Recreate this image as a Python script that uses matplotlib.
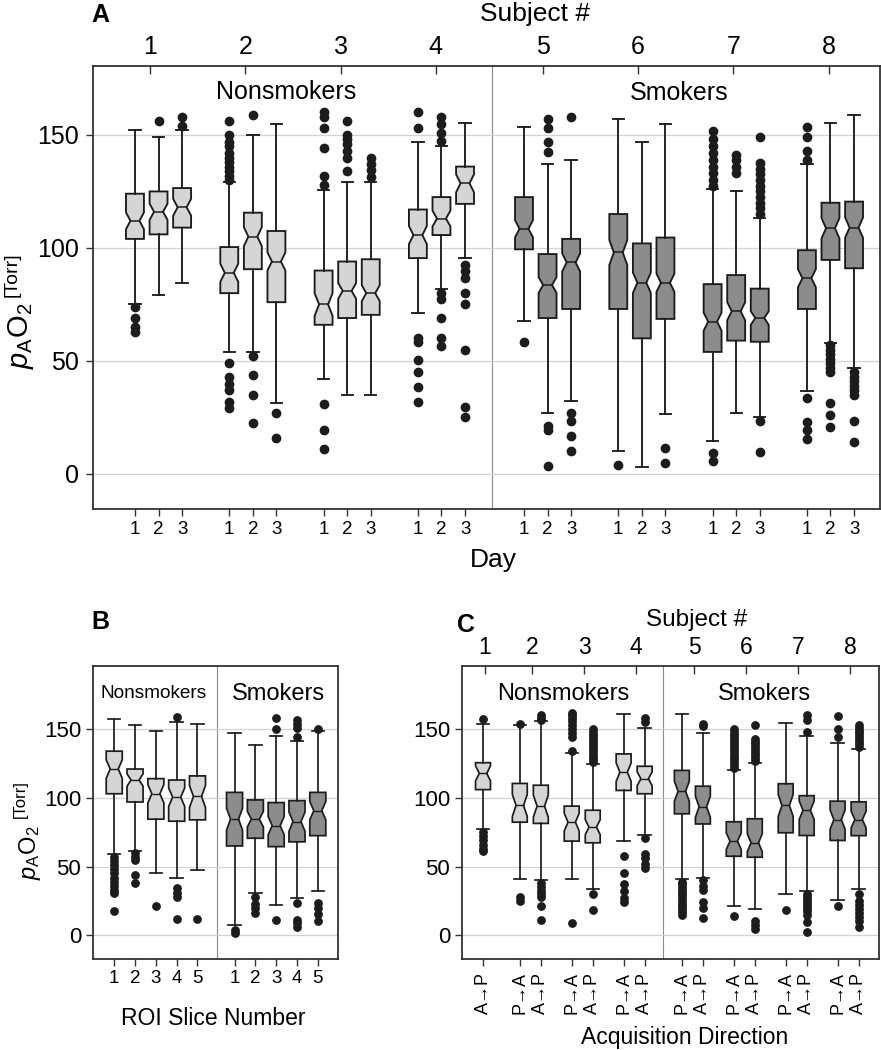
import matplotlib
matplotlib.use('Agg')
import matplotlib.pyplot as plt

plt.rcParams['font.family'] = ['Liberation Sans', 'DejaVu Sans']
plt.rcParams['mathtext.fontset'] = 'custom'
plt.rcParams['mathtext.rm'] = 'Liberation Sans'
plt.rcParams['mathtext.it'] = 'Liberation Sans:italic'

# ---------------- data: panel A (subject x day) ----------------
subjects = ['1', '2', '3', '4', '5', '6', '7', '8']
days = ['1', '2', '3']
A_q1 = [104, 106, 109, 80, 90.6, 76, 66, 69, 70.4, 95.5, 105.7, 119.5,
        99.4, 69, 73, 73, 60, 68.6, 54, 59, 58.5, 73, 94.7, 91]
A_med = [112, 116, 118, 89, 105, 94, 75, 81, 80, 105.7, 113, 128.6,
         108.5, 83.6, 93.6, 98, 84.6, 84.6, 67.4, 72, 69, 86.6, 108.7, 109]
A_q3 = [124, 125, 126.5, 100.4, 115.6, 107.5, 90, 94, 95, 117, 122.5, 136,
        122.5, 97.3, 104, 115, 102, 104.6, 84, 88, 82, 99, 120, 120.5]
A_lo = [75, 79, 84.5, 54, 54, 31.5, 42, 35, 35, 71, 82, 95.5,
        67.7, 27, 32.5, 10, 3.2, 26.5, 14.6, 27, 25.4, 36.7, 58, 47]
A_hi = [152, 149, 152, 129, 150, 155, 125.7, 129, 129, 147, 145, 155.5,
        153.5, 137, 139, 157, 147, 155, 126, 125, 113.4, 137, 155.5, 159]
A_notch = [3.7, 3.6, 3.7, 4, 4.2, 4, 5, 3.5, 3.5, 4, 3.5, 4,
           3.8, 3.5, 4, 5.5, 4.5, 4, 4, 4, 3, 4, 4.5, 4.5]
A_fliers = [
    [74, 69, 65, 63],
    [156],
    [158, 154],
    [156, 150, 147, 145, 142, 140, 138, 136, 134, 132, 130, 49, 43, 40, 37, 32, 29],
    [159, 52, 44, 35, 22.5],
    [27, 16],
    [160, 158, 153, 144, 132, 128, 31, 19.5, 11],
    [156, 150, 148, 146, 143, 140, 134],
    [140, 137, 134.5, 131.5],
    [160, 153, 60, 58.5, 50.6, 45, 38.5, 32],
    [158, 155, 151, 147.5, 80, 77.4, 69, 60, 56.6],
    [92.5, 90, 86.6, 80, 75, 55, 29.6, 25],
    [58.4],
    [157, 153, 147, 142.6, 21.4, 19.5, 3.5],
    [158, 27, 23.5, 17, 10],
    [4],
    [],
    [11.5, 5],
    [151.7, 148, 145, 142, 139, 136, 133, 130, 127.5, 9.4, 5.7],
    [141, 139, 136, 133],
    [149, 137.6, 135, 132.5, 130, 127.5, 125, 122.5, 120, 117.5, 115, 23.5, 9.7],
    [153.5, 149, 143, 139, 33.8, 23, 19.5, 15.5],
    [57, 55, 53, 51, 49, 47, 45, 31.5, 26, 20.8],
    [45, 43, 41, 39, 37, 35, 23.5, 14],
]

# ---------------- data: panel B (ROI slice) ----------------
slices = ['1', '2', '3', '4', '5']
B_q1 = [103, 97, 84.5, 83, 84, 65, 70.6, 64.5, 68, 72.5]
B_med = [121, 113, 103, 100.5, 101, 84.5, 84.5, 79.8, 82.7, 90.7]
B_q3 = [134, 121, 114, 113, 116, 104, 98.5, 96.6, 98, 104]
B_lo = [59, 61.4, 45, 42, 47.6, 7.5, 31, 22.3, 26.9, 32.3]
B_hi = [157.5, 153, 149, 155, 154, 147, 138.6, 144.7, 141.7, 148.5]
B_notch = [6.7, 4.5, 6.7, 6.7, 8, 8, 5.7, 6.7, 7, 6.7]
B_fliers = [
    [57, 54, 51, 48, 45, 42, 39, 36, 33, 31, 18],
    [60, 57, 55, 44, 38.3],
    [21.3],
    [158.8, 34.7, 31, 27.7, 11.7],
    [11.7],
    [3.9, 1.9],
    [28, 22.8, 19.7, 16.5],
    [158.5, 150, 11.1],
    [157, 154, 151, 144, 23.3, 11, 8.6, 6.3],
    [150, 23.3, 20, 15.8, 10.7],
]

# ---------------- data: panel C (acquisition direction) ----------------
directions = ['A\u2192P'] + ['P\u2192A', 'A\u2192P'] * 7
C_q1 = [106, 82.3, 81.4, 68.5, 67.3, 105.4, 103, 88.4, 81, 57.5, 56.8, 74.6, 72.6, 69, 72.5]
C_med = [117.8, 94.5, 94, 82.3, 78.7, 118.7, 113.9, 104.8, 93.5, 68.5, 67.3, 94.5, 91, 84.2, 84.2]
C_q3 = [125.6, 110.5, 109.2, 94, 91, 132, 123, 120, 108.5, 82.6, 84.8, 110.3, 101.6, 97.6, 97.1]
C_lo = [77, 40.6, 40, 41, 34, 68.5, 73, 41, 41.8, 21.6, 19.4, 30, 32, 25.5, 34]
C_hi = [154, 153, 156, 132.8, 124.8, 160.8, 151, 160.8, 147.4, 120, 125.6, 154.7, 145, 139.6, 135.8]
C_notch = [5.5, 8, 8, 6.5, 5.5, 6.7, 5, 7.3, 7.7, 6, 6.5, 8, 6.7, 7, 6]
C_fliers = [
    [157.6, 75, 72, 69, 66, 63, 61],
    [154, 28, 25],
    [160, 158.5, 157, 38, 35, 32, 30, 28, 21, 11.4],
    [162, 160, 158, 156, 153, 150, 147, 144, 134, 9],
    [150, 148, 146, 144, 142, 140, 138, 136, 134, 132, 130, 128, 126, 30, 18.2],
    [58, 45, 37.6, 32, 27, 24.5],
    [158, 155, 71, 58.8, 56, 52, 49],
    [39, 37, 35, 33, 31, 29, 27, 25, 23, 21, 19, 17, 15],
    [154, 152, 40, 36, 33, 24, 20, 12.6],
    [150, 148, 146, 144, 142, 140, 138, 136, 134, 132, 130, 128, 126, 124, 122, 13.8],
    [153, 143, 141, 139, 137, 135, 133, 131, 129, 127, 10, 7.6, 4.6],
    [18.7],
    [160, 157, 148, 30, 28, 26, 24, 22, 20, 18, 15, 9.4, 2.5],
    [159.5, 150, 144, 21],
    [153, 151, 149, 147, 145, 143, 141, 139, 137, 30, 25, 22, 19, 16, 13, 10, 6],
]

y_ticks = [0, 50, 100, 150]

# ---------------- styling ----------------
EDGE = '#1c1c1c'
SPINE = '#333333'
LIGHT = '#d5d5d5'
DARK = '#8c8c8c'
GRID = '#d2d2d2'
W, H = 881, 1050


def build_stats(q1, med, q3, lo, hi, notch, fliers):
    out = []
    for i in range(len(med)):
        out.append(dict(q1=q1[i], med=med[i], q3=q3[i], whislo=lo[i], whishi=hi[i],
                        cilo=med[i] - notch[i], cihi=med[i] + notch[i],
                        fliers=fliers[i]))
    return out


def draw(ax, stats, positions, colors, width, capw, lw, ms):
    bp = ax.bxp(stats, positions=positions, widths=width, capwidths=capw,
                shownotches=True, patch_artist=True, showfliers=True,
                manage_ticks=False,
                boxprops=dict(edgecolor=EDGE, linewidth=lw),
                whiskerprops=dict(color=EDGE, linewidth=lw),
                capprops=dict(color=EDGE, linewidth=lw),
                medianprops=dict(color=EDGE, linewidth=lw * 0.8),
                flierprops=dict(marker='o', markerfacecolor=EDGE, markeredgecolor=EDGE,
                                markersize=ms, linestyle='none'))
    for p, c in zip(bp['boxes'], colors):
        p.set_facecolor(c)


def style_axes(ax, ylim, ytick_size, ypad):
    ax.set_ylim(*ylim)
    ax.set_yticks(y_ticks)
    ax.set_yticklabels([str(v) for v in y_ticks])
    ax.yaxis.grid(True, color=GRID, linewidth=0.9)
    ax.set_axisbelow(True)
    for s in ax.spines.values():
        s.set_color(SPINE)
        s.set_linewidth(1.3)
    ax.tick_params(axis='y', direction='out', length=5, width=1.0, color=SPINE,
                   labelsize=ytick_size, pad=ypad, right=False)
    ax.tick_params(axis='x', direction='out', length=5, width=1.0, color=SPINE, top=False)


def fx(px):
    return px / W


def fy(py):
    return 1 - py / H


fig = plt.figure(figsize=(W / 100, H / 100), dpi=100)

# ================= Panel A =================
axA = fig.add_axes([fx(93), fy(509), fx(880) - fx(93), fy(66) - fy(509)])
posA = [s * 4 + d + 0.5 * (s >= 4) for s in range(len(subjects)) for d in range(len(days))]
colA = [LIGHT if s < 4 else DARK for s in range(len(subjects)) for d in range(len(days))]
draw(axA, build_stats(A_q1, A_med, A_q3, A_lo, A_hi, A_notch, A_fliers), posA, colA,
     0.76, 0.48, 1.35, 6)
axA.set_xlim(-1.78, 31.6)
style_axes(axA, (-15.5, 180.5), 18, 5)
axA.set_xticks(posA)
axA.set_xticklabels(days * len(subjects))
axA.tick_params(axis='x', labelsize=13.5, pad=4)
axA.axvline(15.15, color='#8a8a8a', linewidth=0.8, zorder=0.5)
axA.text(6.41, 166, 'Nonsmokers', ha='center', va='baseline', fontsize=18)
axA.text(23.1, 165.5, 'Smokers', ha='center', va='baseline', fontsize=18)

tA = axA.twiny()
tA.set_xlim(axA.get_xlim())
tA.set_xticks([0.64 + s * 4.04 + 0.5 * (s >= 4) for s in range(len(subjects))])
tA.set_xticklabels(subjects)
tA.tick_params(axis='x', direction='in', length=6, width=1.0, color=SPINE,
               labelsize=18, pad=5)
for s in tA.spines.values():
    s.set_visible(False)

fig.text(fx(91), fy(3), 'A', ha='left', va='top', fontsize=18, fontweight='bold')
fig.text(fx(535), fy(21), 'Subject #', ha='center', va='baseline', fontsize=19)
fig.text(fx(493), fy(567), 'Day', ha='center', va='baseline', fontsize=19)
fig.text(fx(21), fy(303), r'$p_\mathrm{A}\mathrm{O}_2$', rotation=90, ha='center', va='top',
         fontsize=21)
fig.text(fx(12), fy(297), '[Torr]', rotation=90, ha='center', va='bottom', fontsize=14)

# ================= Panel B =================
axB = fig.add_axes([fx(93), fy(959), fx(338) - fx(93), fy(666) - fy(959)])
posB = [g * 5.78 + i for g in range(2) for i in range(len(slices))]
colB = [LIGHT if g == 0 else DARK for g in range(2) for i in range(len(slices))]
draw(axB, build_stats(B_q1, B_med, B_q3, B_lo, B_hi, B_notch, B_fliers), posB, colB,
     0.77, 0.6, 1.25, 5.3)
axB.set_xlim(-1.02, 10.75)
style_axes(axB, (-17.3, 196), 16, 3.6)
axB.set_xticks(posB)
axB.set_xticklabels(slices * 2)
axB.tick_params(axis='x', labelsize=13.5, pad=3)
axB.axvline(4.95, color='#8a8a8a', linewidth=0.8, zorder=0.5)
axB.text(1.875, 172.6, 'Nonsmokers', ha='center', va='baseline', fontsize=13.7)
axB.text(7.88, 171.4, 'Smokers', ha='center', va='baseline', fontsize=17)

fig.text(fx(91), fy(610), 'B', ha='left', va='top', fontsize=18, fontweight='bold')
fig.text(fx(213), fy(1025), 'ROI Slice Number', ha='center', va='baseline', fontsize=16.5)
fig.text(fx(30), fy(826), r'$p_\mathrm{A}\mathrm{O}_2$', rotation=90, ha='center', va='top',
         fontsize=17)
fig.text(fx(20), fy(818), '[Torr]', rotation=90, ha='center', va='bottom', fontsize=12)

# ================= Panel C =================
axC = fig.add_axes([fx(462), fy(959), fx(879) - fx(462), fy(666) - fy(959)])
pair_starts = [1.75 + 2.47 * k + 0.3 * (k >= 3) for k in range(7)]
posC = [0.0]
for b in pair_starts:
    posC += [b, b + 1]
colC = [LIGHT] * 7 + [DARK] * 8
draw(axC, build_stats(C_q1, C_med, C_q3, C_lo, C_hi, C_notch, C_fliers), posC, colC,
     0.71, 0.59, 1.25, 5.3)
axC.set_xlim(-1.0, 18.84)
style_axes(axC, (-17.3, 196), 16, 3.6)
axC.set_xticks(posC)
axC.set_xticklabels(directions)
axC.tick_params(axis='x', labelsize=13, pad=4, labelrotation=90)
axC.axvline(8.54, color='#8a8a8a', linewidth=0.8, zorder=0.5)
axC.text(3.8, 171.4, 'Nonsmokers', ha='center', va='baseline', fontsize=17)
axC.text(13.4, 171.4, 'Smokers', ha='center', va='baseline', fontsize=17)

tC = axC.twiny()
tC.set_xlim(axC.get_xlim())
tC.set_xticks([0.08] + [b + 0.6 for b in pair_starts])
tC.set_xticklabels(subjects)
tC.tick_params(axis='x', direction='in', length=6, width=1.0, color=SPINE,
               labelsize=16.5, pad=5)
for s in tC.spines.values():
    s.set_visible(False)

fig.text(fx(457), fy(613), 'C', ha='left', va='top', fontsize=18, fontweight='bold')
fig.text(fx(697), fy(626), 'Subject #', ha='center', va='baseline', fontsize=17.5)
fig.text(fx(685), fy(1044), 'Acquisition Direction', ha='center', va='baseline', fontsize=16.5)

fig.savefig('out.png', dpi=100)
